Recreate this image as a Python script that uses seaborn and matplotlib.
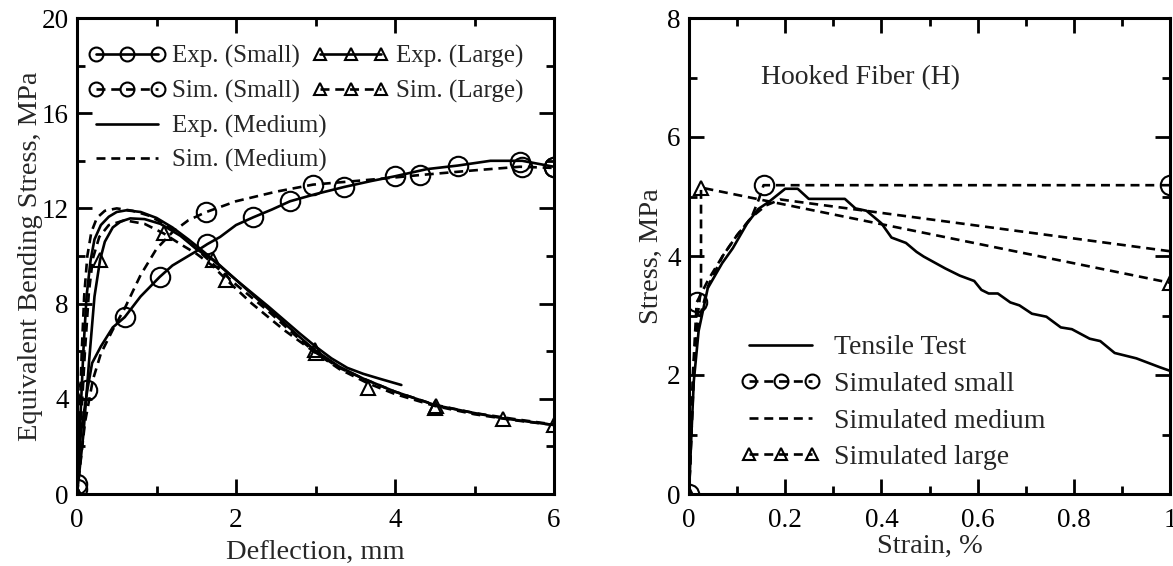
import numpy as np
import pandas as pd
import matplotlib
matplotlib.use("Agg")
import matplotlib.pyplot as plt
from matplotlib.lines import Line2D
from matplotlib.ticker import MultipleLocator
import seaborn as sns

# ------------------------------------------------------------------
# Dados (esquerda: flexão, direita: tração)
# ------------------------------------------------------------------
# Exp. (Small)
exp_small_x = [0, 0.05, 0.13, 0.19, 0.3, 0.45, 0.6, 0.8, 1.04, 1.2, 1.35, 1.5, 1.64, 1.8, 2.0,
               2.22, 2.45, 2.68, 3.0, 3.36, 3.7, 4.0, 4.4, 4.79, 5.2, 5.6, 6.0]
exp_small_y = [0.4, 2.6, 4.37, 5.5, 6.2, 7.0, 7.43, 8.3, 9.12, 9.6, 9.9, 10.2, 10.5, 10.8, 11.3,
               11.63, 11.95, 12.3, 12.6, 12.9, 13.15, 13.35, 13.65, 13.8, 14.0, 14.0, 13.75]
exp_small_mx = [0, 0.13, 0.6, 1.04, 1.64, 2.22, 2.68, 3.36, 4.0, 4.79, 5.6, 6.0]
exp_small_my = [0.4, 4.37, 7.43, 9.12, 10.5, 11.63, 12.3, 12.9, 13.35, 13.8, 13.75, 13.75]

# Sim. (Small)
sim_small_x = [0, 0.1, 0.2, 0.3, 0.45, 0.6, 0.8, 1.0, 1.2, 1.4, 1.62, 2.0, 2.5, 2.97, 3.5,
               4.0, 4.31, 5.0, 5.57, 6.0]
sim_small_y = [0, 3.0, 4.8, 5.9, 6.9, 7.8, 9.2, 10.3, 11.0, 11.5, 11.84, 12.3, 12.7, 13.0, 13.15,
               13.3, 13.4, 13.6, 13.75, 13.7]
sim_small_mx = [0, 1.62, 2.97, 4.31, 5.57, 6.0]
sim_small_my = [0.2, 11.84, 13.0, 13.4, 13.95, 13.75]

# Exp. (Large)
exp_large_x = [0, 0.08, 0.15, 0.22, 0.29, 0.35, 0.45, 0.55, 0.67, 0.85, 1.05, 1.3, 1.5, 1.71,
               2.0, 2.4, 2.8, 2.99, 3.3, 3.6, 4.0, 4.52, 5.0, 5.36, 6.0]
exp_large_y = [0, 2.5, 5.5, 8.3, 9.83, 10.6, 11.2, 11.45, 11.58, 11.55, 11.35, 10.85, 10.3, 9.83,
               9.0, 7.8, 6.6, 6.05, 5.35, 4.85, 4.3, 3.72, 3.4, 3.18, 2.9]
exp_large_mx = [0, 0.29, 1.71, 2.99, 4.52, 5.36, 6.0]
exp_large_my = [0, 9.83, 9.83, 6.05, 3.7, 3.15, 2.88]

# Sim. (Large)
sim_large_x = [0, 0.05, 0.1, 0.15, 0.2, 0.28, 0.4, 0.6, 0.85, 1.09, 1.3, 1.5, 1.7, 1.88, 2.2,
               2.6, 3.01, 3.3, 3.66, 4.0, 4.5, 5.0, 5.5, 6.0]
sim_large_y = [0, 3.0, 6.0, 8.5, 9.9, 10.8, 11.3, 11.5, 11.35, 10.95, 10.5, 10.1, 9.6, 9.0, 8.0,
               6.9, 5.91, 5.25, 4.65, 4.2, 3.7, 3.35, 3.1, 2.9]
sim_large_mx = [0, 1.09, 1.88, 3.01, 3.66, 4.5]
sim_large_my = [0, 10.95, 9.0, 5.91, 4.45, 3.6]

# Exp. (Medium)
exp_med_x = [0, 0.04, 0.08, 0.12, 0.17, 0.22, 0.3, 0.4, 0.5, 0.62, 0.8, 1.0, 1.2, 1.4, 1.55,
             1.8, 2.0, 2.4, 2.8, 3.0, 3.2, 3.4, 3.6, 3.8, 4.08]
exp_med_y = [0, 3.0, 6.0, 8.3, 9.8, 10.7, 11.3, 11.65, 11.85, 11.92, 11.85, 11.6, 11.2, 10.7,
             10.3, 9.6, 9.0, 7.9, 6.75, 6.2, 5.7, 5.3, 5.05, 4.85, 4.58]

# Sim. (Medium)
sim_med_x = [0, 0.03, 0.06, 0.09, 0.13, 0.18, 0.25, 0.35, 0.5, 0.7, 0.9, 1.1, 1.3, 1.5, 1.8,
             2.0, 2.4, 2.8, 3.0, 3.3, 3.6, 4.0, 4.5, 5.0, 5.5, 6.0]
sim_med_y = [0, 3.0, 6.0, 8.3, 10.0, 11.0, 11.6, 11.9, 12.0, 11.9, 11.7, 11.35, 10.9, 10.3, 9.4,
             8.8, 7.7, 6.5, 5.95, 5.3, 4.85, 4.3, 3.75, 3.4, 3.15, 2.92]

# Ensaio de tração (direita)
tens_x = [0, 0.005, 0.01, 0.02, 0.039, 0.069, 0.091, 0.121, 0.144, 0.166, 0.2, 0.226, 0.249,
          0.324, 0.346, 0.369, 0.4, 0.421, 0.451, 0.473, 0.488, 0.533, 0.563, 0.593, 0.608,
          0.623, 0.642, 0.668, 0.687, 0.713, 0.743, 0.773, 0.796, 0.833, 0.855, 0.885, 0.93,
          0.979, 1.0]
tens_y = [0, 1.0, 1.9, 2.74, 3.46, 3.88, 4.13, 4.55, 4.79, 4.91, 5.13, 5.13, 4.96,
          4.96, 4.8, 4.76, 4.55, 4.31, 4.22, 4.07, 3.99, 3.79, 3.67, 3.58, 3.43,
          3.37, 3.37, 3.22, 3.17, 3.03, 2.98, 2.8, 2.77, 2.61, 2.57, 2.37, 2.28,
          2.13, 2.07]

tsim_small_x = [0, 0.008, 0.016, 0.04, 0.07, 0.1, 0.13, 0.145, 0.155, 1.0]
tsim_small_y = [0, 2.0, 3.22, 3.6, 4.0, 4.35, 4.65, 4.95, 5.19, 5.19]
tsim_small_mx = [0, 0.016, 0.155, 1.0]
tsim_small_my = [0, 3.22, 5.19, 5.19]

tsim_med_x = [0, 0.01, 0.02, 0.04, 0.07, 0.1, 0.13, 0.16, 0.19, 1.0]
tsim_med_y = [0, 2.2, 2.9, 3.5, 4.0, 4.35, 4.65, 4.85, 4.95, 4.08]

tsim_large_x = [0, 0.01, 0.018, 0.025, 0.025, 1.0]
tsim_large_y = [0, 2.0, 3.0, 3.45, 5.15, 3.55]
tsim_large_mx = [0, 0.024, 1.0]
tsim_large_my = [0, 5.15, 3.55]

# ------------------------------------------------------------------
# Estilo
# ------------------------------------------------------------------
sns.set_theme(style="ticks")
plt.rcParams['font.family'] = ['Liberation Serif', 'DejaVu Serif']
plt.rcParams['axes.linewidth'] = 2.2

LW = 1.9
DASH = (3.4, 2.2)
COR = 'black'

fig = plt.figure(figsize=(11.73, 5.66), dpi=100)
ax1 = fig.add_axes([77 / 1173, 1 - 494 / 566, 477 / 1173, 476 / 566])
ax2 = fig.add_axes([689 / 1173, 1 - 494 / 566, 481 / 1173, 476 / 566])


def linha(ax, x, y, tracejada=False):
    kw = dict(dashes=DASH) if tracejada else {}
    sns.lineplot(x=x, y=y, ax=ax, color=COR, lw=LW, sort=False, estimator=None, **kw)


def marcas(ax, x, y, m, ms):
    sns.lineplot(x=x, y=y, ax=ax, color=COR, sort=False, estimator=None, ls='none',
                 marker=m, ms=ms, mfc='none', mec=COR, mew=1.5)


# --- Gráfico 1: flexão ---
linha(ax1, exp_small_x, exp_small_y)
marcas(ax1, exp_small_mx, exp_small_my, 'o', 14)
linha(ax1, sim_small_x, sim_small_y, True)
marcas(ax1, sim_small_mx, sim_small_my, 'o', 14)
linha(ax1, exp_large_x, exp_large_y)
marcas(ax1, exp_large_mx, exp_large_my, '^', 10)
linha(ax1, sim_large_x, sim_large_y, True)
marcas(ax1, sim_large_mx, sim_large_my, '^', 10)
linha(ax1, exp_med_x, exp_med_y)
linha(ax1, sim_med_x, sim_med_y, True)

ax1.set_xlim(0, 6)
ax1.set_ylim(0, 20)
ax1.xaxis.set_major_locator(MultipleLocator(2))
ax1.xaxis.set_minor_locator(MultipleLocator(1))
ax1.yaxis.set_major_locator(MultipleLocator(4))
ax1.yaxis.set_minor_locator(MultipleLocator(2))
ax1.set_xlabel('Deflection, mm', fontsize=20.5, labelpad=5)
ax1.set_ylabel('Equivalent Bending Stress, MPa', fontsize=20.5, labelpad=-1)


def h(ls, m=None, ms=10):
    return Line2D([], [], color=COR, lw=LW, ls=ls, dashes=DASH if ls == '--' else (None, None),
                  marker=m, ms=ms, mfc='none', mec=COR, mew=1.5)


leg_kw = dict(loc='upper left', frameon=False, borderpad=0, borderaxespad=0,
              handlelength=3.05, handletextpad=0.28, labelspacing=0.46, numpoints=3, fontsize=18)

# legenda superior (Small / Large em duas colunas)
leg_a = ax1.legend([h('-', 'o'), h('--', 'o'), h('-', '^', 8), h('--', '^', 8)],
                   ['Exp. (Small)', 'Sim. (Small)', 'Exp. (Large)', 'Sim. (Large)'],
                   ncol=2, columnspacing=0.5, bbox_to_anchor=(0.025, 0.943), **leg_kw)
ax1.add_artist(leg_a)
# legenda inferior (Medium)
ax1.legend([h('-'), h('--')], ['Exp. (Medium)', 'Sim. (Medium)'],
           bbox_to_anchor=(0.025, 0.797), **leg_kw)

# --- Gráfico 2: tração ---
linha(ax2, tens_x, tens_y)
linha(ax2, tsim_small_x, tsim_small_y, True)
marcas(ax2, tsim_small_mx, tsim_small_my, 'o', 14)
linha(ax2, tsim_med_x, tsim_med_y, True)
linha(ax2, tsim_large_x, tsim_large_y, True)
marcas(ax2, tsim_large_mx, tsim_large_my, '^', 10)

ax2.set_xlim(0, 1)
ax2.set_ylim(0, 8)
ax2.xaxis.set_major_locator(MultipleLocator(0.2))
ax2.xaxis.set_minor_locator(MultipleLocator(0.1))
ax2.yaxis.set_major_locator(MultipleLocator(2))
ax2.yaxis.set_minor_locator(MultipleLocator(1))
ax2.xaxis.set_major_formatter(plt.FuncFormatter(lambda v, p: f'{v:g}'))
ax2.set_xlabel('Strain, %', fontsize=20.5, labelpad=1)
ax2.set_ylabel('Stress, MPa', fontsize=20.5, labelpad=2)
ax2.text(0.15, 7.0, 'Hooked Fiber (H)', fontsize=20, va='center', ha='left')

handles2 = [h('-'), h('--', 'o'), h('--'), h('--', '^', 8)]
labels2 = ['Tensile Test', 'Simulated small', 'Simulated medium', 'Simulated large']
ax2.legend(handles2, labels2, loc='upper left', bbox_to_anchor=(0.108, 0.334),
           frameon=False, borderpad=0, borderaxespad=0, handlelength=2.85, handletextpad=0.5,
           labelspacing=0.4, numpoints=3, fontsize=20)

for ax in (ax1, ax2):
    ax.tick_params(which='both', direction='in', top=True, right=True, width=2, colors=COR,
                   labelsize=19.5)
    ax.tick_params(axis='x', which='both', pad=10)
    ax.tick_params(axis='y', which='both', pad=6)
    ax.tick_params(which='major', length=11)
    ax.tick_params(which='minor', length=6)
    for s in ax.spines.values():
        s.set_color(COR)
        s.set_linewidth(2.2)

fig.savefig('out.png', dpi=100)
